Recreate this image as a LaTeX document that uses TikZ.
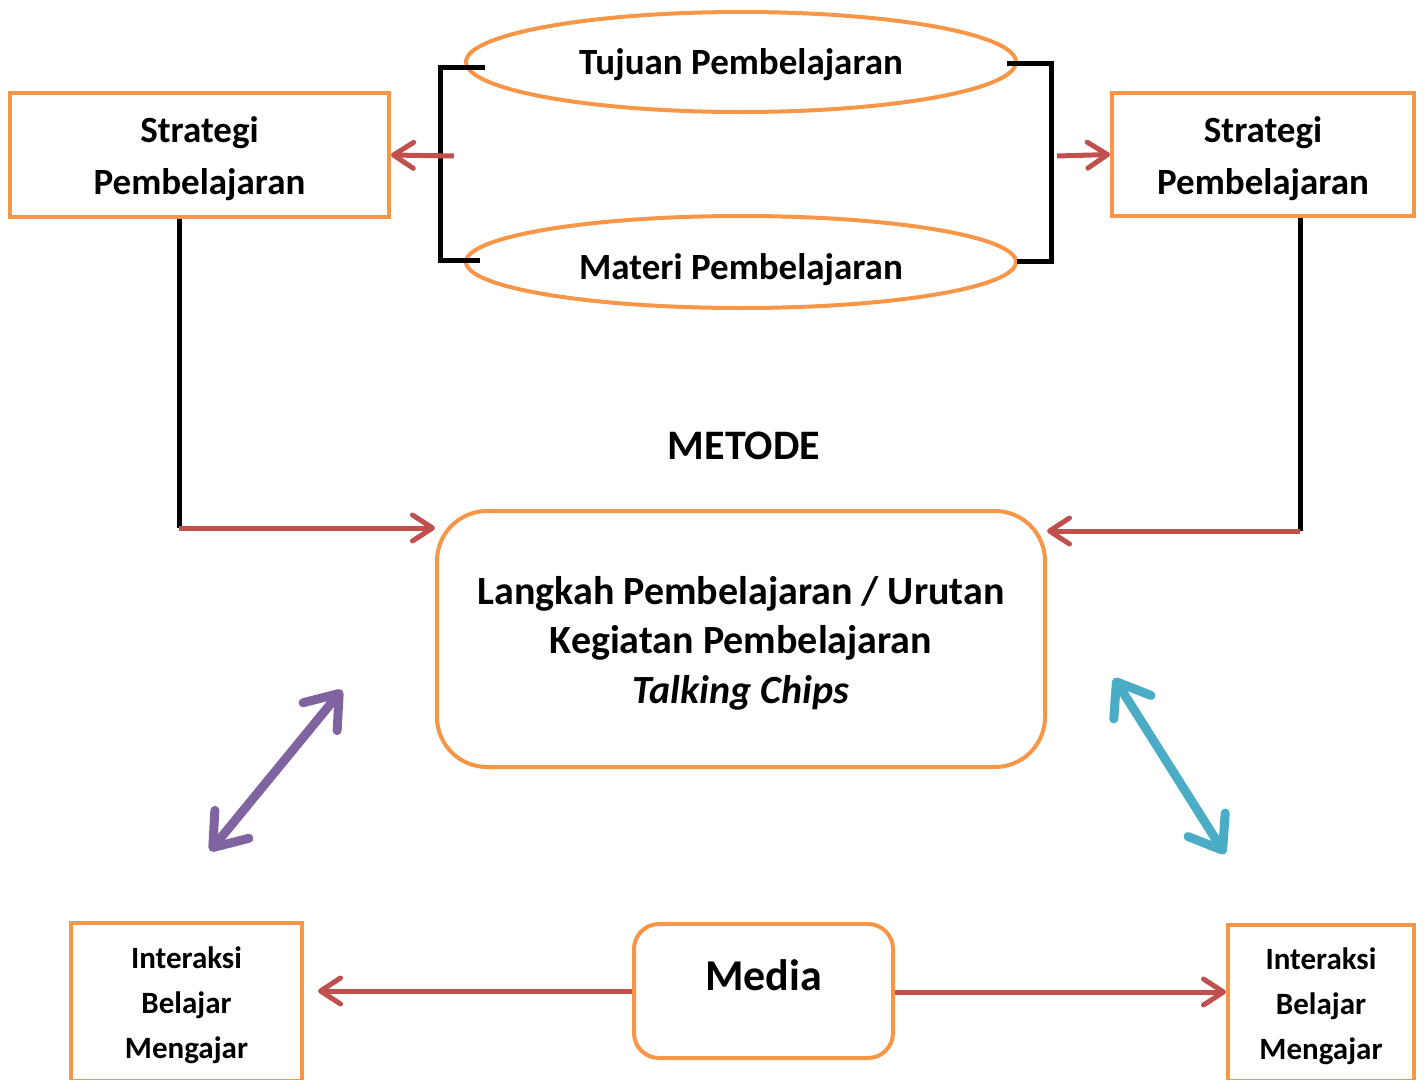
\documentclass[tikz,border=0pt]{standalone}
\usepackage{fontspec}
\setmainfont{Carlito}
\usetikzlibrary{arrows.meta,shapes.geometric}
\definecolor{boxorange}{HTML}{F79646}
\definecolor{arrowred}{HTML}{C0504D}
\definecolor{lilac}{HTML}{8064A2}
\definecolor{aqua}{HTML}{4BACC6}
% lowers a label by half the extra height given to its first line
\newcommand{\lowerby}[2]{\raisebox{0pt}[\dimexpr\height+#1\relax]{#2}}
\begin{document}
\begin{tikzpicture}[x=1pt,y=-1pt,
  obox/.style={draw=boxorange, line width=4pt, rectangle, inner sep=0pt, align=center},
  oval/.style={draw=boxorange, line width=4pt, ellipse, inner sep=0pt,
    font=\bfseries\fontsize{37}{44}\selectfont},
  bigtext/.style={font=\bfseries\fontsize{37}{52}\selectfont},
  smalltext/.style={font=\bfseries\fontsize{31}{45}\selectfont},
  blackline/.style={draw=black, line width=5pt},
  redarrow/.style={draw=arrowred, line width=5pt,
    -{Straight Barb[length=20pt,width=26pt,round]}},
  lilacarrow/.style={draw=lilac, line width=9pt,
    {Straight Barb[length=30pt,width=44pt,round]}-{Straight Barb[length=30pt,width=44pt,round]}},
  aquaarrow/.style={draw=aqua, line width=9pt,
    {Straight Barb[length=30pt,width=44pt,round]}-{Straight Barb[length=30pt,width=44pt,round]}}
]
\useasboundingbox (0,0) rectangle (1424,1079);
\clip (0,0) rectangle (1424,1079);

% objectives and material
\node[oval, minimum width=550pt, minimum height=100pt] (tujuan) at (741,62) {\lowerby{6pt}{Tujuan Pembelajaran}};
\node[oval, minimum width=550pt, minimum height=92pt] (materi) at (741,262) {\lowerby{16pt}{Materi Pembelajaran}};

% brackets joining them
\draw[blackline] (485,67) -- (440,67) -- (440,260) -- (480,260);
\draw[blackline] (1007,63) -- (1051,63) -- (1051,261) -- (1017,261);
\coordinate (lb) at (454,156);
\coordinate (rb) at (1057,156);

% strategy boxes
\node[obox, bigtext, minimum width=379pt, minimum height=124pt] (sl) at (199.5,155) {\lowerby{8pt}{Strategi}\\Pembelajaran};
\node[obox, bigtext, minimum width=302pt, minimum height=123pt] (sr) at (1263,154.5) {\lowerby{8pt}{Strategi}\\Pembelajaran};
\draw[redarrow] (lb) -- (sl.east);
\draw[redarrow] (rb) -- (sr.west);

% method
\node[font=\bfseries\fontsize{42}{48}\selectfont] (metode) at (744,446) {METODE};

% learning steps
\node[obox, rounded corners=50pt, minimum width=608pt, minimum height=256pt,
  font=\bfseries\fontsize{40}{49.5}\selectfont] (main) at (741,639)
  {\lowerby{8pt}{Langkah Pembelajaran / Urutan}\\Kegiatan Pembelajaran\\\textit{Talking Chips}};

\coordinate (lc) at (179,528);
\coordinate (rc) at (1300,531);
\draw[blackline] (sl.south -| lc) -- (lc);
\draw[redarrow] (lc) -- (main.west |- lc);
\draw[blackline] (sr.south -| rc) -- (rc);
\draw[redarrow] (rc) -- (main.east |- rc);

% diagonal double arrows
\coordinate (pa) at (210,851);
\coordinate (pb) at (342,690);
\coordinate (qa) at (1114,678);
\coordinate (qb) at (1225,854);
\draw[lilacarrow] (pa) -- (pb);
\draw[aquaarrow] (qa) -- (qb);

% bottom row
\node[obox, smalltext, minimum width=231pt, minimum height=158pt] (il) at (186.5,1002) {\lowerby{6pt}{Interaksi}\\Belajar\\Mengajar};
\node[obox, smalltext, minimum width=186pt, minimum height=156pt] (ir) at (1321,1003) {\lowerby{6pt}{Interaksi}\\Belajar\\Mengajar};
\node[obox, rounded corners=25pt, minimum width=259pt, minimum height=134pt,
  font=\bfseries\fontsize{44}{50}\selectfont] (media) at (763.5,991) {\raisebox{31pt}{Media}};

\coordinate (mr) at ([yshift=-1pt]media.east);
\draw[redarrow, shorten >=14pt] (media.west) -- (il.east |- media.west);
\draw[redarrow] (mr) -- (ir.west |- mr);
\end{tikzpicture}
\end{document}
